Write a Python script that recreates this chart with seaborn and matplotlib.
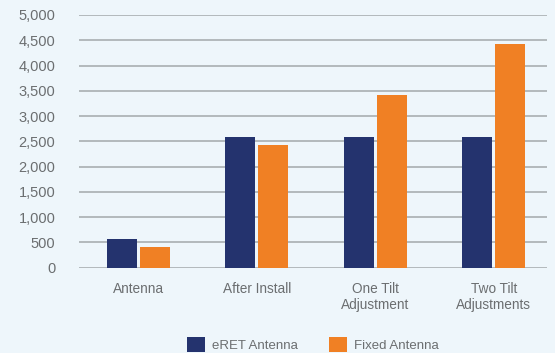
import matplotlib
matplotlib.use("Agg")
import matplotlib.pyplot as plt
import seaborn as sns
import pandas as pd

categories = ["Antenna", "After Install", "One Tilt\nAdjustment", "Two Tilt\nAdjustments"]
eret_values = [570, 2590, 2590, 2590]
fixed_values = [410, 2430, 3420, 4430]
series_names = ["eRET Antenna", "Fixed Antenna"]
y_ticks = [0, 500, 1000, 1500, 2000, 2500, 3000, 3500, 4000, 4500, 5000]

df = pd.DataFrame({
    "category": categories * 2,
    "value": eret_values + fixed_values,
    "series": [series_names[0]] * len(categories) + [series_names[1]] * len(categories),
})

bg = "#EEF6FB"
text_color = "#6B6E70"
palette = {series_names[0]: "#24336E", series_names[1]: "#F08024"}

sns.set_theme(style="white")
plt.rcParams["font.family"] = ["Liberation Sans", "DejaVu Sans"]

fig = plt.figure(figsize=(5.55, 3.53), dpi=100, facecolor=bg)
ax = fig.add_axes([79 / 555, (353 - 267.7) / 353, 468 / 555, 252.7 / 353])
ax.set_facecolor(bg)

sns.barplot(data=df, x="category", y="value", hue="series", order=categories,
            hue_order=series_names, palette=palette, saturation=1,
            width=0.56, gap=0.09, linewidth=0, ax=ax, legend=True)

ax.set_xlim(-0.5, 3.45)
ax.set_ylim(0, 5000)
ax.set_yticks(y_ticks)
ax.set_yticklabels([f"{v:,}" for v in y_ticks])
ax.yaxis.grid(True, color="#A3A9AB", linewidth=1.1)
ax.set_axisbelow(True)
for s in ax.spines.values():
    s.set_visible(False)
ax.tick_params(axis="y", length=0, pad=17, labelsize=10.5, labelcolor=text_color)
ax.tick_params(axis="x", length=0, pad=10, labelsize=9.8, labelcolor=text_color)
ax.set_xlabel("")
ax.set_ylabel("")
for lbl in ax.get_xticklabels():
    lbl.set_linespacing(1.2)
for lbl in ax.get_yticklabels():
    lbl.set_clip_on(False)

handles, labels = ax.get_legend_handles_labels()
ax.legend(handles, labels, loc="center", bbox_to_anchor=(0.5, -0.305), ncol=2,
          frameon=False, fontsize=9.5, labelcolor=text_color,
          handlelength=1.3, handleheight=1.3, handletextpad=0.55,
          columnspacing=2.4, borderaxespad=0)

fig.savefig("out.png", dpi=100, facecolor=bg)
